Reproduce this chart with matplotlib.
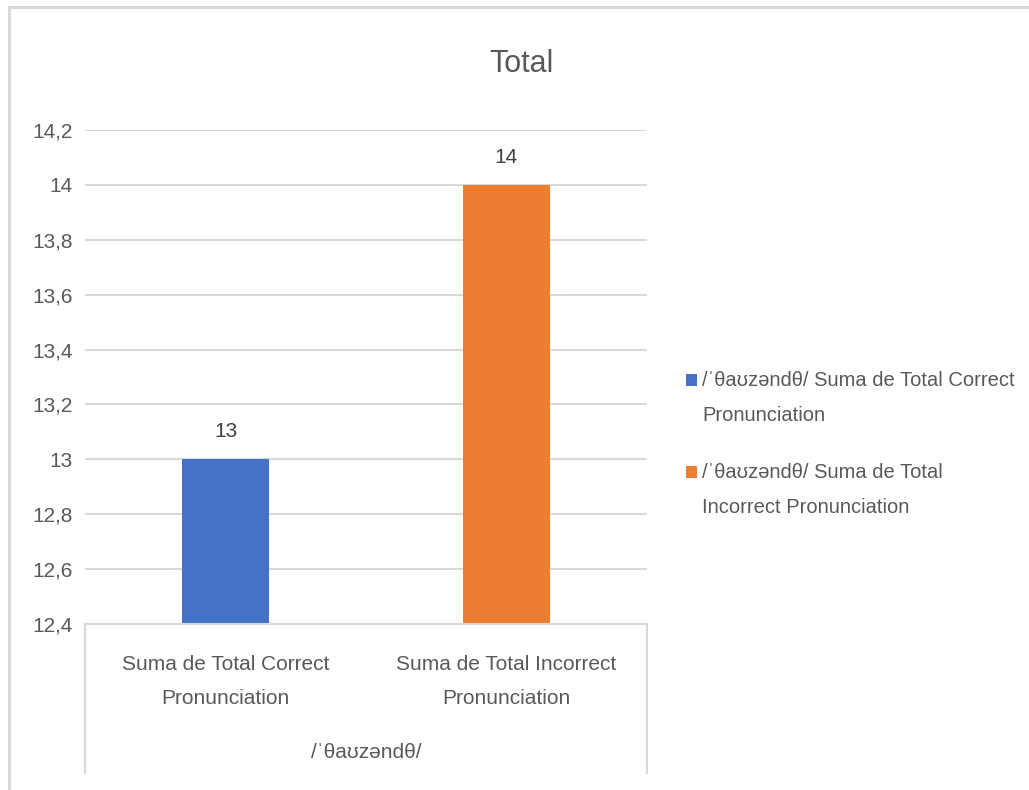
import matplotlib
matplotlib.use("Agg")
import matplotlib.pyplot as plt
from matplotlib import font_manager
from matplotlib.lines import Line2D
from matplotlib.patches import Rectangle

names = {f.name for f in font_manager.fontManager.ttflist}
main = "Liberation Sans Narrow" if "Liberation Sans Narrow" in names else "Liberation Sans"
plt.rcParams['font.family'] = [main, 'DejaVu Sans']

title = "Total"
group_label = "/ˈθaʊzəndθ/"
categories = ["Suma de Total Correct\nPronunciation", "Suma de Total Incorrect\nPronunciation"]
values = [13, 14]
legend_labels = ["/ˈθaʊzəndθ/ Suma de Total Correct\nPronunciation",
                 "/ˈθaʊzəndθ/ Suma de Total\nIncorrect Pronunciation"]
colors = ["#4472C4", "#ED7D31"]
yticks = [12.4, 12.6, 12.8, 13.0, 13.2, 13.4, 13.6, 13.8, 14.0, 14.2]

W, H = 1029, 790
fig = plt.figure(figsize=(W/100, H/100), dpi=100)
fig.patch.set_facecolor("white")

# chart border (top and left visible)
fig.add_artist(Line2D([9/W, 9/W], [0, 1-7/H], color="#d9d9d9", lw=2.2, transform=fig.transFigure))
fig.add_artist(Line2D([9/W, 1], [1-7/H, 1-7/H], color="#d9d9d9", lw=2.2, transform=fig.transFigure))

left, right, top, bottom = 85, 647, 130, 624
ax = fig.add_axes([left/W, 1-bottom/H, (right-left)/W, (bottom-top)/H])
x = list(range(len(values)))
ax.bar(x, values, width=0.313, color=colors)
ax.set_xlim(-0.5, 1.5)
ax.set_ylim(12.4, 14.2)
ax.set_yticks(yticks)
ax.set_yticklabels([("%g" % v).replace(".", ",") for v in yticks], fontsize=15, color="#595959")
ax.tick_params(axis="y", length=0, pad=9)
ax.grid(axis="y", color="#d9d9d9", lw=1.5)
ax.set_axisbelow(True)
for s in ["top", "right", "left"]:
    ax.spines[s].set_visible(False)
ax.spines["bottom"].set_color("#d9d9d9")
ax.spines["bottom"].set_linewidth(1.5)
ax.set_xticks(x)
ax.set_xticklabels(categories, fontsize=15, color="#595959", linespacing=2.0)
ax.tick_params(axis="x", length=0, pad=22)

for xi, v in zip(x, values):
    ax.annotate(str(v), (xi, v), xytext=(0, 13), textcoords="offset points",
                ha="center", va="bottom", fontsize=15, color="#404040")

# multi-level axis lines
ybot = -(773-624)/(bottom-top)
for xa in [0, 1]:
    ax.add_line(Line2D([xa, xa], [0, ybot], transform=ax.transAxes, color="#d9d9d9",
                       lw=1.5, clip_on=False))
ax.text(0.5, -(752-624)/(bottom-top), group_label, transform=ax.transAxes,
        ha="center", va="center", fontsize=15, color="#595959")

fig.text(522/W, 1-64/H, title, ha="center", va="center", fontsize=22, color="#595959")

# legend (handles aligned with first text line, like the reference)
entry_first_line_y = [381, 473]
for lab, c, yl in zip(legend_labels, colors, entry_first_line_y):
    fig.add_artist(Rectangle((686/W, 1-(yl+5)/H), 11/W, 12/H, facecolor=c,
                             edgecolor="none", transform=fig.transFigure))
    fig.text(702/W, 1-(yl-10)/H, lab, ha="left", va="top", fontsize=14.5,
             color="#595959", linespacing=2.05)

fig.savefig("out.png", dpi=100, facecolor="white")
